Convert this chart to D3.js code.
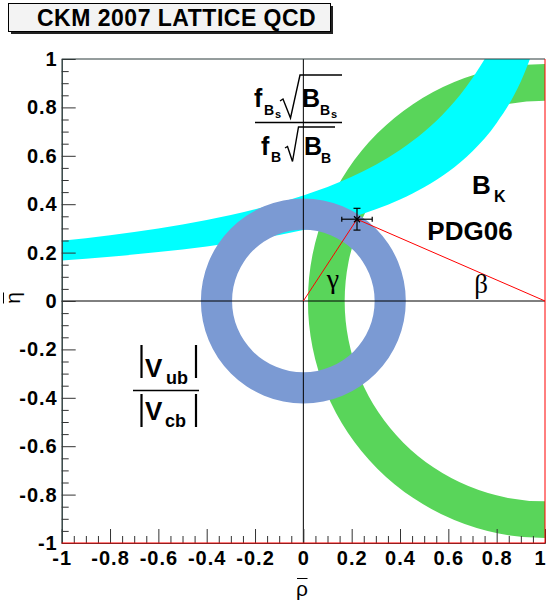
<!DOCTYPE html>
<html><head><meta charset="utf-8">
<script src="https://cdn.jsdelivr.net/npm/d3@7/dist/d3.min.js"></script>
<style>body{margin:0;background:#fff}svg{display:block}</style>
</head><body><svg id="c" width="546" height="602"></svg>
<script>
// ---------------- data ----------------
const xTickValues = [-1,-0.8,-0.6,-0.4,-0.2,0,0.2,0.4,0.6,0.8,1];
const xTickLabels = ["-1","-0.8","-0.6","-0.4","-0.2","0","0.2","0.4","0.6","0.8","1"];
const yTickValues = [-1,-0.8,-0.6,-0.4,-0.2,0,0.2,0.4,0.6,0.8,1];
const yTickLabels = ["-1","-0.8","-0.6","-0.4","-0.2","0","0.2","0.4","0.6","0.8","1"];

// cyan band (lower / upper eta edges read at these rho values)
const cyanRho      = [-1,    -0.8,  -0.6,  -0.4,  -0.2,  0,     0.2,   0.4,   0.5,   0.6,   0.7,   0.8,   0.9,   1.0];
const cyanLowerEta = [0.167, 0.183, 0.202, 0.225, 0.255, 0.293, 0.345, 0.419, 0.470, 0.534, 0.619, 0.736, 0.907, 1.18];
const cyanUpperEta = [0.249, 0.272, 0.300, 0.335, 0.379, 0.436, 0.513, 0.624, 0.699, 0.795, 0.921, 1.094, 1.349, 1.758];

// rings: centre (rho, eta) and inner / outer radius
const blueCentre = [0, 0];
const blueRadii  = [0.295, 0.424];
const greenCentre = [1, 0];
const greenRadii  = [0.829, 0.981];

// triangle apex with errors
const apexPoint = [0.222, 0.338];
const apexError = [0.063, 0.045];
const triangleBase = [[0, 0], [1, 0]];

// ---------------- layout ----------------
const svg = d3.select("#c");
const x = d3.scaleLinear().domain([-1, 1]).range([61.7, 545]);
const y = d3.scaleLinear().domain([-1, 1]).range([543, 59]);
const SANS = "'Liberation Sans', Arial, sans-serif";
const SERIF = "'Liberation Serif', 'Times New Roman', serif";

svg.append("rect").attr("width", 546).attr("height", 602).attr("fill", "#fff");

// title box
svg.append("rect").attr("x", 11).attr("y", 6).attr("width", 322).attr("height", 28).attr("fill", "#222");
svg.append("rect").attr("x", 8.5).attr("y", 3.5).attr("width", 322).attr("height", 28)
  .attr("fill", "#f3f3f3").attr("stroke", "#000").attr("stroke-width", 1);
svg.append("text").attr("x", 37).attr("y", 26)
  .attr("font-family", SANS).attr("font-weight", "bold").attr("font-size", 23)
  .attr("letter-spacing", 0.5)
  .text("CKM 2007 LATTICE QCD");

// clip
const defs = svg.append("defs");
defs.append("clipPath").attr("id", "plot").append("rect")
  .attr("x", x(-1)).attr("y", y(1)).attr("width", x(1) - x(-1)).attr("height", y(-1) - y(1));
const plot = svg.append("g").attr("clip-path", "url(#plot)");

const unit = x(1) - x(0);
function ring(centre, radii, colour) {
  const arc = d3.arc().innerRadius(radii[0] * unit).outerRadius(radii[1] * unit)
    .startAngle(0).endAngle(2 * Math.PI);
  plot.append("path").attr("d", arc())
    .attr("transform", `translate(${x(centre[0])},${y(centre[1])})`)
    .attr("fill", colour);
}
ring(greenCentre, greenRadii, "#59d55a");

const cyanData = cyanRho.map((r, i) => ({r, lo: cyanLowerEta[i], hi: cyanUpperEta[i]}));
const area = d3.area().x(d => x(d.r)).y0(d => y(d.lo)).y1(d => y(d.hi)).curve(d3.curveMonotoneX);
plot.append("path").attr("d", area(cyanData)).attr("fill", "#00ffff");

ring(blueCentre, blueRadii, "#7b9ad3");

// zero lines
svg.append("line").attr("x1", x(-1)).attr("x2", x(1)).attr("y1", y(0)).attr("y2", y(0))
  .attr("stroke", "#000").attr("stroke-width", 1);
svg.append("line").attr("x1", x(0)).attr("x2", x(0)).attr("y1", y(-1)).attr("y2", y(1))
  .attr("stroke", "#000").attr("stroke-width", 1);

// axes
const minor = d3.range(-20, 21).map(i => i * 0.05).filter(v => Math.abs(Math.round(v * 5) - v * 5) > 1e-6);
const xAxisG = svg.append("g").attr("transform", `translate(0,${y(-1)})`);
xAxisG.append("g").call(d3.axisBottom(x).tickValues(minor).tickSize(-7).tickSizeOuter(0).tickFormat(""));
const xMajor = xAxisG.append("g").call(d3.axisBottom(x).tickValues(xTickValues).tickSize(-14).tickSizeOuter(0)
  .tickPadding(8).tickFormat((d, i) => xTickLabels[i]));
const yAxisG = svg.append("g").attr("transform", `translate(${x(-1)},0)`);
yAxisG.append("g").call(d3.axisLeft(y).tickValues(minor).tickSize(-7).tickSizeOuter(0).tickFormat(""));
yAxisG.append("g").call(d3.axisLeft(y).tickValues(yTickValues).tickSize(-14).tickSizeOuter(0)
  .tickPadding(4).tickFormat((d, i) => yTickLabels[i]));
svg.selectAll(".tick line").attr("stroke", "#333");
svg.selectAll(".domain").attr("stroke", "#2b3b3b");
svg.selectAll(".tick text").attr("font-family", SANS).attr("font-weight", "bold")
  .attr("font-size", 20).attr("letter-spacing", 1).attr("fill", "#000");
xMajor.selectAll(".tick text").filter(d => d === 1).attr("text-anchor", "end").attr("dx", 1);

// top frame
svg.append("line").attr("x1", x(-1)).attr("x2", x(1)).attr("y1", y(1)).attr("y2", y(1))
  .attr("stroke", "#2b3b3b").attr("stroke-width", 1);

// red frame + triangle
svg.append("line").attr("x1", x(1)).attr("x2", x(1)).attr("y1", y(1)).attr("y2", y(-1))
  .attr("stroke", "#ff0000").attr("stroke-width", 1);
svg.append("line").attr("x1", x(-1)).attr("x2", x(1)).attr("y1", y(-1)).attr("y2", y(-1))
  .attr("stroke", "#ff0000").attr("stroke-width", 1);
const tri = [triangleBase[0], apexPoint, triangleBase[1]];
svg.append("path").attr("d", d3.line().x(d => x(d[0])).y(d => y(d[1]))(tri))
  .attr("fill", "none").attr("stroke", "#ff0000").attr("stroke-width", 1);

// apex errors + marker
const ax = x(apexPoint[0]), ay = y(apexPoint[1]);
const eg = svg.append("g").attr("stroke", "#000").attr("stroke-width", 1.2);
const xl = x(apexPoint[0] - apexError[0]), xr = x(apexPoint[0] + apexError[0]);
const yt = y(apexPoint[1] + apexError[1]), yb = y(apexPoint[1] - apexError[1]);
eg.append("line").attr("x1", xl).attr("x2", xr).attr("y1", ay).attr("y2", ay);
eg.append("line").attr("x1", xl).attr("x2", xl).attr("y1", ay - 2.5).attr("y2", ay + 2.5);
eg.append("line").attr("x1", xr).attr("x2", xr).attr("y1", ay - 2.5).attr("y2", ay + 2.5);
eg.append("line").attr("x1", ax).attr("x2", ax).attr("y1", yt).attr("y2", yb);
eg.append("line").attr("x1", ax - 3.5).attr("x2", ax + 3.5).attr("y1", yt).attr("y2", yt);
eg.append("line").attr("x1", ax - 3.5).attr("x2", ax + 3.5).attr("y1", yb).attr("y2", yb);
eg.append("line").attr("x1", ax - 3).attr("x2", ax + 3).attr("y1", ay - 3).attr("y2", ay + 3);
eg.append("line").attr("x1", ax - 3).attr("x2", ax + 3).attr("y1", ay + 3).attr("y2", ay - 3);

// ---------------- labels ----------------
function t(px, py, s, size, opts = {}) {
  return svg.append("text").attr("x", px).attr("y", py)
    .attr("font-family", opts.family || SANS)
    .attr("font-weight", opts.weight || "bold")
    .attr("font-size", size)
    .attr("text-anchor", opts.anchor || "start")
    .text(s);
}
function ln(x1, y1, x2, y2, w) {
  svg.append("line").attr("x1", x1).attr("y1", y1).attr("x2", x2).attr("y2", y2)
    .attr("stroke", "#000").attr("stroke-width", w || 1.5);
}
function pl(pts, w) {
  svg.append("polyline").attr("points", pts.map(p => p.join(",")).join(" "))
    .attr("fill", "none").attr("stroke", "#000").attr("stroke-width", w || 1.5);
}

// fB_s sqrt(B_Bs) / fB sqrt(B_B)
t(254, 107, "f", 25);
t(264, 115, "B", 14);
t(275, 118, "s", 11);
pl([[280, 101], [283, 99], [290.5, 118], [300, 75], [342, 75]], 1.4);
t(302, 107, "B", 25);
t(320, 115, "B", 14);
t(331, 118, "s", 11);
ln(255, 122.5, 342, 122.5, 1.6);
t(261, 155, "f", 25);
t(271, 162, "B", 14);
pl([[285, 148], [287.5, 146.5], [292.5, 161.5], [298.5, 127], [335, 127]], 1.4);
t(304, 155, "B", 25);
t(321, 163, "B", 14);

// B_K, PDG06
t(472, 193.5, "B", 26);
t(494, 201.5, "K", 16);
t(470, 240, "PDG06", 26, {anchor: "middle"});

// |Vub| / |Vcb|
ln(141.5, 345, 141.5, 378, 2.2);
ln(196, 345, 196, 378, 2.2);
t(145, 377, "V", 26);
t(166, 384, "ub", 18);
ln(133, 390.5, 199, 390.5, 1.6);
ln(141.5, 394, 141.5, 427, 2.2);
ln(196, 394, 196, 427, 2.2);
t(145, 420, "V", 26);
t(165, 427, "cb", 18);

// gamma, beta
t(333, 288, "γ", 28, {family: SERIF, weight: "normal", anchor: "middle"});
t(481, 293, "β", 27, {family: SERIF, weight: "normal", anchor: "middle"});

// axis titles
t(302, 596, "ρ", 21, {weight: "normal", anchor: "middle"});
ln(297, 578.5, 307.5, 578.5, 1);
const eg2 = svg.append("g").attr("transform", "translate(20,298) rotate(-90)");
eg2.append("text").attr("x", 0).attr("y", 0).attr("text-anchor", "middle")
  .attr("font-family", SANS).attr("font-size", 21).text("η");
eg2.append("line").attr("x1", -5.5).attr("x2", 5.5).attr("y1", -16.5).attr("y2", -16.5)
  .attr("stroke", "#000").attr("stroke-width", 1);
</script></body></html>
